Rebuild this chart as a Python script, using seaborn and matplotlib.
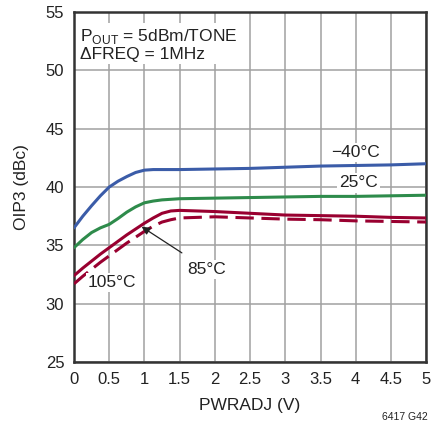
import pandas as pd
import seaborn as sns
import matplotlib.pyplot as plt

sns.set_style("white")
plt.rcParams["font.family"] = ["Liberation Sans Narrow", "Liberation Sans", "DejaVu Sans"]

# data
pwradj = [0, 0.125, 0.25, 0.375, 0.5, 0.625, 0.75, 0.875, 1, 1.125, 1.25, 1.375, 1.5,
          2, 2.5, 3, 3.5, 4, 4.5, 5]
oip3_m40 = [36.5, 37.5, 38.4, 39.25, 40.0, 40.5, 40.9, 41.25, 41.45, 41.5, 41.5, 41.5, 41.5,
            41.55, 41.6, 41.7, 41.8, 41.85, 41.9, 42.0]
oip3_25 = [34.8, 35.5, 36.1, 36.5, 36.8, 37.3, 37.85, 38.3, 38.65, 38.8, 38.9, 38.95, 39.0,
           39.05, 39.1, 39.15, 39.2, 39.2, 39.25, 39.3]
oip3_85 = [32.4, 33.05, 33.65, 34.25, 34.8, 35.35, 35.9, 36.4, 36.9, 37.35, 37.75, 37.95, 38.0,
           37.9, 37.75, 37.6, 37.55, 37.5, 37.4, 37.35]
oip3_105 = [31.7, 32.35, 32.95, 33.55, 34.1, 34.65, 35.2, 35.7, 36.2, 36.65, 37.0, 37.2, 37.35,
            37.45, 37.35, 37.25, 37.2, 37.1, 37.05, 37.0]
temps = ["-40", "25", "85", "105"]

df = pd.DataFrame({
    "PWRADJ": pwradj * 4,
    "OIP3": oip3_m40 + oip3_25 + oip3_85 + oip3_105,
    "T": [t for t in temps for _ in pwradj],
})

colors = {"-40": "#3b5ca8", "25": "#2e8b4b", "85": "#990030", "105": "#990030"}
dashes = {"-40": "", "25": "", "85": "", "105": (6, 2.5)}

fig = plt.figure(figsize=(4.43, 4.33), dpi=100)
ax = fig.add_axes([0.167, 0.164, 0.795, 0.808])

sns.lineplot(data=df, x="PWRADJ", y="OIP3", hue="T", style="T", palette=colors,
             dashes=dashes, linewidth=2.2, legend=False, ax=ax, zorder=3)

ax.set_xlim(0, 5)
ax.set_ylim(25, 55)
ax.set_xticks([i * 0.5 for i in range(11)])
ax.set_xticklabels(["0", "0.5", "1", "1.5", "2", "2.5", "3", "3.5", "4", "4.5", "5"])
ax.set_yticks(range(25, 56, 5))
ax.grid(True, color="#a0a0a0", linewidth=1.1)
ax.set_axisbelow(True)
for s in ax.spines.values():
    s.set_color("#333333")
    s.set_linewidth(1.8)
ax.tick_params(length=0, labelsize=12, colors="#222222", pad=7)
ax.set_xlabel("PWRADJ (V)", fontsize=12.5, color="#222222", labelpad=8)
ax.set_ylabel("OIP3 (dBc)", fontsize=12.5, color="#222222", labelpad=12)

box = dict(facecolor="white", edgecolor="none", pad=1.5)
ax.text(0.09, 53.7, "P$_{\\mathregular{OUT}}$ = 5dBm/TONE\n\u0394FREQ = 1MHz", fontsize=12.5,
        va="top", ha="left", color="#222222", bbox=box, linespacing=1.05, zorder=4)
ax.text(3.99, 42.95, "\u221240\u00b0C", fontsize=12.5, ha="center", va="center",
        color="#222222", bbox=box, zorder=4)
ax.text(4.04, 40.35, "25\u00b0C", fontsize=12.5, ha="center", va="center",
        color="#222222", bbox=box, zorder=4)
ax.annotate("85\u00b0C", xy=(0.96, 36.6), xytext=(1.89, 32.95), fontsize=12.5,
            ha="center", va="center", color="#222222",
            bbox=box, zorder=4,
            arrowprops=dict(arrowstyle="-|>", color="#222222", lw=0.9,
                            shrinkA=9, shrinkB=0, mutation_scale=12))
ax.text(0.54, 31.8, "105\u00b0C", fontsize=12.5, ha="center", va="center",
        color="#222222", bbox=box, zorder=4)

fig.text(0.965, 0.025, "6417 G42", fontsize=7.5, ha="right", va="bottom", color="#222222")

fig.savefig("out.png", dpi=100)
